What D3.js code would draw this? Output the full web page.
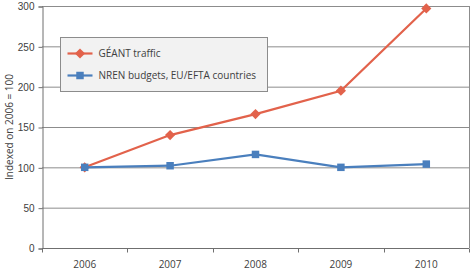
<!DOCTYPE html>
<html>
<head>
<meta charset="utf-8">
<script src="https://cdn.jsdelivr.net/npm/d3@7"></script>
<style>
  body { margin: 0; background: #fff; }
  svg { display: block; font-family: "Open Sans", "Noto Sans", sans-serif; }
</style>
</head>
<body>
<svg id="chart" width="472" height="274"></svg>
<script>
// data
var years = ['2006', '2007', '2008', '2009', '2010'];
var geantTraffic = [100, 140, 166, 195, 297];
var nrenBudgets = [100, 102, 116, 100, 104];
var yTicks = [0, 50, 100, 150, 200, 250, 300];
var seriesNames = ['GÉANT traffic', 'NREN budgets, EU/EFTA countries'];

var W = 472, H = 274;
var m = { top: 6, right: 3, bottom: 26, left: 42 };
var RED = '#e2624b', BLUE = '#4a7fbd';

var svg = d3.select('#chart');

var x = d3.scaleBand().domain(years).range([m.left, W - m.right]);
var y = d3.scaleLinear().domain([0, 300]).range([H - m.bottom, m.top]);

// gridlines
svg.append('g')
    .selectAll('line').data(yTicks.slice(1)).join('line')
    .attr('x1', m.left).attr('x2', W - m.right)
    .attr('y1', function (d) { return y(d) + 0.5; })
    .attr('y2', function (d) { return y(d) + 0.5; })
    .attr('stroke', '#8c8c8c').attr('stroke-width', 1);

// right border
svg.append('line')
    .attr('x1', W - m.right + 0.5).attr('x2', W - m.right + 0.5)
    .attr('y1', m.top).attr('y2', H - m.bottom)
    .attr('stroke', '#8c8c8c');

// y axis
var yAxis = svg.append('g')
    .attr('transform', 'translate(' + (m.left + 0.5) + ',0.5)')
    .call(d3.axisLeft(y).tickValues(yTicks).tickSize(4).tickPadding(4));
yAxis.select('.domain').attr('stroke', '#6f6f6f');
yAxis.selectAll('.tick line').attr('stroke', '#6f6f6f');
yAxis.selectAll('text').attr('font-size', 10).attr('fill', '#404040');

// x axis, ticks between categories
var xAxis = svg.append('g')
    .attr('transform', 'translate(0,' + (H - m.bottom + 0.5) + ')');
xAxis.append('line')
    .attr('x1', m.left).attr('x2', W - m.right)
    .attr('stroke', '#6f6f6f');
xAxis.selectAll('line.tk').data(years.concat(['end'])).join('line')
    .attr('class', 'tk')
    .attr('x1', function (d, i) { return Math.round(m.left + i * x.step()) + 0.5; })
    .attr('x2', function (d, i) { return Math.round(m.left + i * x.step()) + 0.5; })
    .attr('y1', 0).attr('y2', 4)
    .attr('stroke', '#6f6f6f');
xAxis.selectAll('text').data(years).join('text')
    .attr('x', function (d) { return x(d) + x.bandwidth() / 2; })
    .attr('y', 19)
    .attr('text-anchor', 'middle')
    .attr('font-size', 10).attr('fill', '#404040')
    .text(function (d) { return d; });

// y title
svg.append('text')
    .attr('transform', 'translate(13,' + ((m.top + H - m.bottom) / 2) + ') rotate(-90)')
    .attr('text-anchor', 'middle')
    .attr('font-size', 10).attr('fill', '#404040')
    .text('Indexed on 2006 = 100');

function cx(d, i) { return x(years[i]) + x.bandwidth() / 2; }

var line = d3.line().x(cx).y(function (d) { return y(d); });

// diamond = square turned 45°
function marker(shape) {
    return d3.symbol().type(d3.symbolSquare).size(shape === 'diamond' ? 52 : 56)();
}
function rot(shape) { return shape === 'diamond' ? ' rotate(45)' : ''; }

function drawSeries(vals, color, shape) {
    svg.append('path').datum(vals)
        .attr('d', line)
        .attr('fill', 'none').attr('stroke', color).attr('stroke-width', 2.2);
    svg.append('g').selectAll('path').data(vals).join('path')
        .attr('transform', function (d, i) { return 'translate(' + cx(d, i) + ',' + y(d) + ')' + rot(shape); })
        .attr('d', marker(shape))
        .attr('fill', color);
}

drawSeries(geantTraffic, RED, 'diamond');
drawSeries(nrenBudgets, BLUE, 'square');

// legend
var lg = svg.append('g').attr('transform', 'translate(60.5,37.5)');
lg.append('rect').attr('width', 207).attr('height', 54)
    .attr('fill', '#f2f2f2').attr('stroke', '#8c8c8c');
[[RED, 'diamond'], [BLUE, 'square']].forEach(function (s, i) {
    var yy = 16 + i * 22;
    lg.append('line').attr('x1', 7).attr('x2', 32).attr('y1', yy).attr('y2', yy)
        .attr('stroke', s[0]).attr('stroke-width', 2.2);
    lg.append('path').attr('transform', 'translate(19.5,' + yy + ')' + rot(s[1]))
        .attr('d', marker(s[1]))
        .attr('fill', s[0]);
    lg.append('text').attr('x', 38).attr('y', yy).attr('dy', '0.35em')
        .attr('font-size', 10).attr('fill', '#404040')
        .text(seriesNames[i]);
});
</script>
</body>
</html>
